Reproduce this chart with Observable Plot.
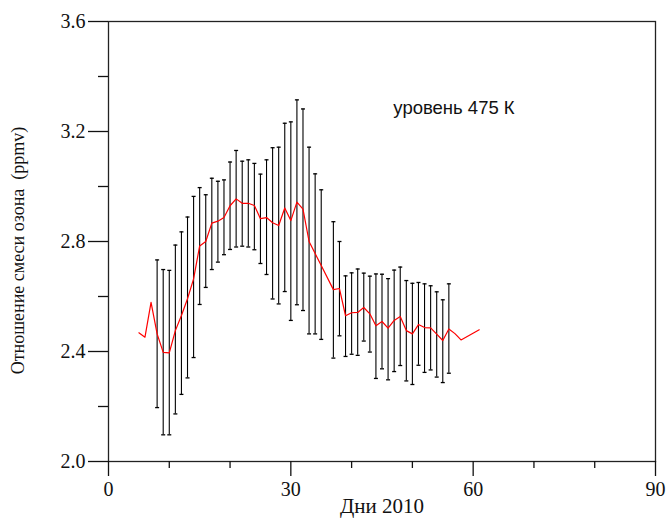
<!DOCTYPE html>
<html>
<head>
<meta charset="utf-8">
<script src="https://cdn.jsdelivr.net/npm/d3@7"></script>
<script src="https://cdn.jsdelivr.net/npm/@observablehq/plot@0.6"></script>
<style>
  html, body { margin: 0; padding: 0; background: #fff; }
</style>
</head>
<body>
<div id="chart"></div>
<script>
// Red line: mean ozone mixing ratio (ppmv) by day
const lineDays = [5,6,7,8,9,10,11,12,13,14,15,16,17,18,19,20,21,22,23,24,25,26,27,28,29,30,31,32,33,34,35,
  37,38,39,40,41,42,43,44,45,46,47,48,49,50,51,52,53,54,55,56,57,58,61];
const lineValues = [2.468,2.452,2.579,2.464,2.397,2.395,2.476,2.531,2.592,2.664,2.784,2.800,2.867,2.874,2.887,2.930,2.955,2.939,2.939,2.931,2.883,2.887,2.868,2.858,2.922,2.876,2.943,2.918,2.800,2.756,2.713,
  2.625,2.629,2.530,2.541,2.542,2.560,2.537,2.494,2.509,2.485,2.513,2.527,2.476,2.464,2.498,2.487,2.486,2.463,2.440,2.482,2.465,2.442,2.479];

// Error bars
const barDays = [8,9,10,11,12,13,14,15,16,17,18,19,20,21,22,23,24,25,26,27,28,29,30,31,32,33,34,35,
  37,38,39,40,41,42,43,44,45,46,47,48,49,50,51,52,53,54,55,56];
const barLow = [2.196,2.097,2.097,2.173,2.244,2.304,2.378,2.571,2.633,2.698,2.725,2.752,2.771,2.780,2.783,2.780,2.770,2.720,2.680,2.591,2.573,2.618,2.513,2.570,2.549,2.464,2.464,2.444,
  2.376,2.457,2.382,2.390,2.386,2.438,2.398,2.302,2.337,2.297,2.327,2.349,2.293,2.280,2.350,2.324,2.333,2.307,2.287,2.321];
const barHigh = [2.733,2.698,2.695,2.787,2.835,2.889,2.964,2.996,2.970,3.030,3.019,3.024,3.089,3.131,3.092,3.097,3.084,3.045,3.097,3.141,3.143,3.230,3.235,3.315,3.282,3.143,3.046,2.988,
  2.872,2.800,2.675,2.686,2.700,2.685,2.674,2.682,2.681,2.665,2.696,2.707,2.658,2.648,2.651,2.646,2.639,2.617,2.588,2.646];

const xMajorTicks = [0, 30, 60, 90];
const xMinorTicks = [10, 20, 40, 50, 70, 80];
const yMajorTicks = [2.0, 2.4, 2.8, 3.2, 3.6];
const yMinorTicks = [2.2, 2.6, 3.0, 3.4];

const xTitle = "Дни 2010";
const yTitle = "Отношение смеси озона  (ppmv)";
const note = "уровень 475 К";

const lineData = lineDays.map((d, i) => ({day: d, value: lineValues[i]}));
const barData = barDays.map((d, i) => ({day: d, lo: barLow[i], hi: barHigh[i]}));

const capSymbol = {
  draw(context, size) {
    const w = Math.sqrt(size / Math.PI);
    context.moveTo(-w, 0);
    context.lineTo(w, 0);
  }
};

const serif = "'Liberation Serif', 'Times New Roman', serif";

const chart = Plot.plot({
  width: 667,
  height: 521,
  marginLeft: 108,
  marginRight: 12,
  marginTop: 21,
  marginBottom: 60,
  style: {fontFamily: serif, background: "#fff", color: "#111"},
  x: {domain: [0, 90], label: null},
  y: {domain: [2.0, 3.6], label: null},
  marks: [
    Plot.frame({stroke: "#222", strokeWidth: 1.3}),
    Plot.axisX({ticks: xMajorTicks, tickSize: 15, tickPadding: 5, fontSize: 20, strokeWidth: 1.3, label: null}),
    Plot.axisX({ticks: xMinorTicks, tickSize: 7, tickFormat: () => "", strokeWidth: 1.3, label: null}),
    Plot.axisY({ticks: yMajorTicks, tickSize: 20, tickPadding: 3, fontSize: 20, tickFormat: d3.format(".1f"), strokeWidth: 1.3, label: null}),
    Plot.axisY({ticks: yMinorTicks, tickSize: 10, tickFormat: () => "", strokeWidth: 1.3, label: null}),
    Plot.ruleX(barData, {x: "day", y1: "lo", y2: "hi", stroke: "#000", strokeWidth: 1.1}),
    Plot.dot(barData, {x: "day", y: "lo", symbol: capSymbol, r: 2, stroke: "#000", strokeWidth: 1.3}),
    Plot.dot(barData, {x: "day", y: "hi", symbol: capSymbol, r: 2, stroke: "#000", strokeWidth: 1.3}),
    Plot.line(lineData, {x: "day", y: "value", stroke: "#ff0000", strokeWidth: 1.2}),
    Plot.text([note], {text: d => d, frameAnchor: "top", dx: 72, dy: 79, fontFamily: "'Liberation Sans', Arial, sans-serif", fontSize: 18.5, fill: "#111"}),
    Plot.text([xTitle], {text: d => d, frameAnchor: "bottom", dy: 51, fontSize: 21, fill: "#111"}),
    Plot.text([yTitle], {text: d => d, frameAnchor: "left", textAnchor: "middle", rotate: -90, dx: -90, dy: 9, fontSize: 18, fill: "#111"})
  ]
});

document.getElementById("chart").append(chart);
</script>
</body>
</html>
